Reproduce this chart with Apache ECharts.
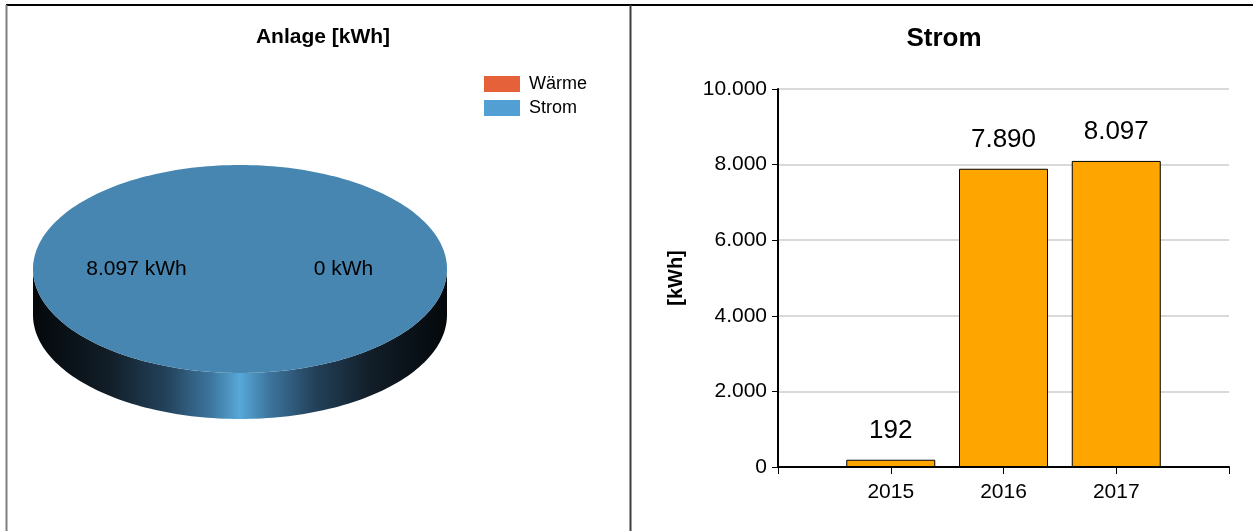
<!DOCTYPE html>
<html>
<head>
<meta charset="utf-8">
<script src="https://cdn.jsdelivr.net/npm/echarts@6/dist/echarts.min.js"></script>
<style>
  html, body { margin: 0; padding: 0; background: #ffffff; }
  #chart { width: 1253px; height: 531px; }
</style>
</head>
<body>
<div id="chart"></div>
<script>
// Plant totals shown in the pie
const pieNames = ['Wärme', 'Strom'];
const pieValues = [0, 8097];

// Yearly electricity production
const years = [2015, 2016, 2017];
const stromValues = [192, 7890, 8097];

// Value axis range for the bar chart
const yMin = 0;
const yMax = 10000;
const yStep = 2000;

const FONT = '"Liberation Sans", Arial, Helvetica, sans-serif';
const legendColors = ['#e4613a', '#519fd3'];
const faceColors = ['#e4613a', '#4786b0'];

// German number format: thousands separated by a dot
function de(v) {
  return String(Math.round(v)).replace(/\B(?=(\d{3})+(?!\d))/g, '.');
}

// Geometry of the tilted pie disc
const PIE = { cx: 240, cy: 269, rx: 207, ry: 104, depth: 46 };

function sideGradient(i) {
  if (i === 0) {
    return new echarts.graphic.LinearGradient(0, 0, 1, 0, [
      { offset: 0, color: '#3a1206' }, { offset: 0.5, color: '#e4613a' }, { offset: 1, color: '#3a1206' }
    ]);
  }
  return new echarts.graphic.LinearGradient(0, 0, 1, 0, [
    { offset: 0, color: '#04080b' },
    { offset: 0.18, color: '#111d27' },
    { offset: 0.32, color: '#23415a' },
    { offset: 0.43, color: '#3d769e' },
    { offset: 0.5, color: '#58a8d9' },
    { offset: 0.57, color: '#3d769e' },
    { offset: 0.68, color: '#23415a' },
    { offset: 0.82, color: '#111d27' },
    { offset: 1, color: '#04080b' }
  ]);
}

function ellipsePoint(theta, dy) {
  return [PIE.cx + PIE.rx * Math.cos(theta), PIE.cy + dy + PIE.ry * Math.sin(theta)];
}

function drawSlice(api, i) {
  const v = api.value(0);
  const a0 = api.value(1) * Math.PI * 2;
  const a1 = api.value(2) * Math.PI * 2;
  const children = [];
  const N = 120;

  // visible front wall of the slice (lower half of the disc)
  const s0 = Math.max(a0, 0), s1 = Math.min(a1, Math.PI);
  if (s1 > s0) {
    const pts = [];
    for (let k = 0; k <= N; k++) pts.push(ellipsePoint(s0 + (s1 - s0) * k / N, 0));
    for (let k = N; k >= 0; k--) pts.push(ellipsePoint(s0 + (s1 - s0) * k / N, PIE.depth));
    children.push({
      type: 'polygon', z2: 1, silent: true,
      shape: { points: pts },
      style: { fill: sideGradient(i) }
    });
  }

  // top face
  if (a1 > a0) {
    const pts = [];
    const full = (a1 - a0) >= Math.PI * 2 - 1e-9;
    if (!full) pts.push([PIE.cx, PIE.cy]);
    for (let k = 0; k <= N * 2; k++) pts.push(ellipsePoint(a0 + (a1 - a0) * k / (N * 2), 0));
    children.push({
      type: 'polygon', z2: 5, silent: true,
      shape: { points: pts },
      style: { fill: faceColors[i] }
    });
  }

  // value label at half radius on the slice's middle angle
  const mid = (a0 + a1) / 2;
  children.push({
    type: 'text', z2: 20, silent: true,
    x: PIE.cx + 0.5 * PIE.rx * Math.cos(mid),
    y: PIE.cy + 0.5 * PIE.ry * Math.sin(mid),
    style: {
      text: de(v) + ' kWh',
      fill: '#000000',
      font: '21px ' + FONT,
      align: 'center',
      verticalAlign: 'middle'
    }
  });

  return { type: 'group', children };
}

const total = pieValues.reduce((a, b) => a + b, 0);
let acc = 0;
const pieSeries = pieNames.map((name, i) => {
  const start = acc / total;
  acc += pieValues[i];
  const end = acc / total;
  return {
    type: 'custom',
    name: name,
    coordinateSystem: 'none',
    itemStyle: { color: legendColors[i] },
    data: [[pieValues[i], start, end]],
    renderItem: (params, api) => drawSlice(api, i)
  };
});

const barSeries = {
  type: 'bar',
  name: 'Strom [kWh]',
  data: years.map((y, i) => [y, stromValues[i]]),
  barWidth: 89,
  itemStyle: { color: '#ffa500', borderColor: '#000000', borderWidth: 1 },
  label: {
    show: true,
    position: 'top',
    distance: 16,
    fontSize: 26,
    fontFamily: FONT,
    color: '#000000',
    formatter: p => de(p.value[1])
  }
};

const chart = echarts.init(document.getElementById('chart'), null, { renderer: 'canvas' });

chart.setOption({
  animation: false,
  backgroundColor: '#ffffff',
  textStyle: { fontFamily: FONT },
  title: [
    {
      text: 'Anlage [kWh]',
      left: 318, top: 22, textAlign: 'center',
      textStyle: { fontSize: 21, fontWeight: 'bold', color: '#000000', fontFamily: FONT }
    },
    {
      text: 'Strom',
      left: 939, top: 21, textAlign: 'center',
      textStyle: { fontSize: 26, fontWeight: 'bold', color: '#000000', fontFamily: FONT }
    }
  ],
  legend: {
    data: pieNames,
    orient: 'vertical',
    left: 484, top: 75,
    icon: 'rect',
    itemWidth: 36, itemHeight: 16, itemGap: 6,
    padding: 0,
    selectedMode: false,
    textStyle: { fontSize: 18, color: '#000000', lineHeight: 16, fontFamily: FONT, padding: [0, 0, 0, 4] }
  },
  grid: { left: 778, right: 24, top: 89, bottom: 64, containLabel: false },
  xAxis: {
    type: 'value',
    min: 2014, max: 2018, interval: 1,
    axisLine: { show: true, lineStyle: { color: '#000000', width: 2 } },
    axisTick: { show: true, length: 7, lineStyle: { color: '#000000', width: 1 } },
    splitLine: { show: false },
    axisLabel: {
      margin: 15,
      fontSize: 21, color: '#000000', fontFamily: FONT,
      formatter: v => (v > 2014 && v < 2018 ? String(v) : '')
    }
  },
  yAxis: {
    type: 'value',
    min: yMin, max: yMax, interval: yStep,
    name: '[kWh]',
    nameLocation: 'middle',
    nameRotate: 90,
    nameGap: 92,
    nameTextStyle: { fontSize: 20, fontWeight: 'bold', color: '#000000', fontFamily: FONT },
    axisLine: { show: true, lineStyle: { color: '#000000', width: 2 } },
    axisTick: { show: true, length: 6, lineStyle: { color: '#000000', width: 1 } },
    splitLine: { show: true, lineStyle: { color: '#d9d9d9', width: 2 } },
    axisLabel: {
      margin: 11,
      fontSize: 21, color: '#000000', fontFamily: FONT,
      formatter: v => de(v)
    }
  },
  series: [...pieSeries, barSeries],
  graphic: [
    { type: 'line', silent: true, z: 100, shape: { x1: 6, y1: 5, x2: 1253, y2: 5 }, style: { stroke: '#000000', lineWidth: 2 } },
    { type: 'line', silent: true, z: 100, shape: { x1: 6.5, y1: 5, x2: 6.5, y2: 531 }, style: { stroke: '#808080', lineWidth: 2 } },
    { type: 'line', silent: true, z: 100, shape: { x1: 630.5, y1: 5, x2: 630.5, y2: 531 }, style: { stroke: '#3c3c3c', lineWidth: 2 } }
  ]
});
</script>
</body>
</html>
